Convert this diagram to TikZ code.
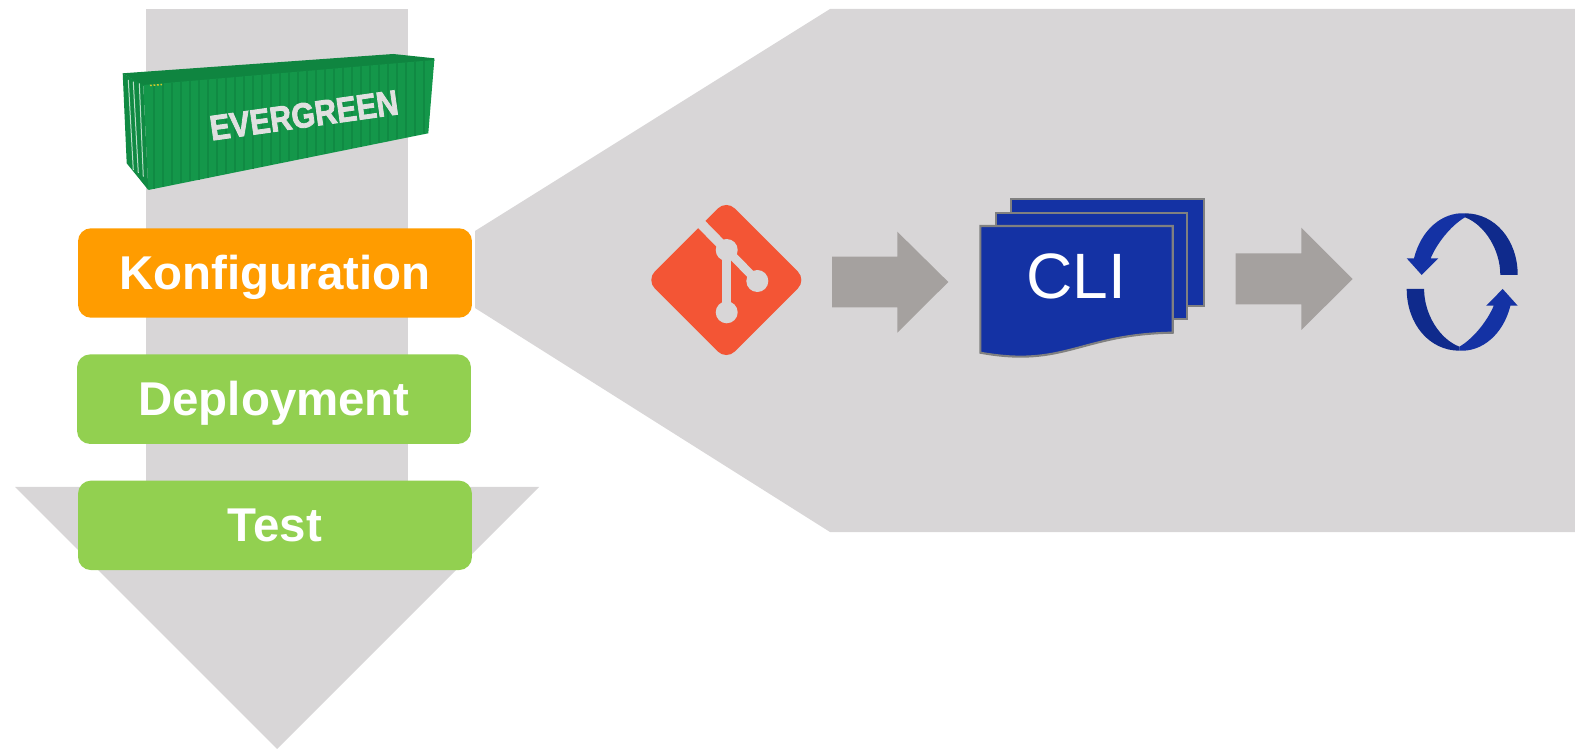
\documentclass[tikz,border=0pt]{standalone}
\usepackage{fontspec}
\setmainfont{Liberation Sans}
\newfontfamily\cratefont[BoldFeatures={FakeBold=2.5}]{Liberation Sans}
\usetikzlibrary{positioning}
\definecolor{backgray}{HTML}{D8D6D7}
\definecolor{flowgray}{HTML}{A5A19F}
\definecolor{konforange}{HTML}{FF9C00}
\definecolor{stagegreen}{HTML}{92D050}
\definecolor{gitred}{HTML}{F35535}
\definecolor{cliblue}{HTML}{1432A4}
\definecolor{clidark}{HTML}{0F2A8C}
\definecolor{boxgreen}{HTML}{14974A}
\definecolor{boxdark}{HTML}{0F8540}
\definecolor{boxrib}{HTML}{108A43}

\begin{document}
\begin{tikzpicture}
[x=0.02cm,y=-0.02cm,node distance=0.72cm,
stage/.style =
{shape=rectangle, rounded corners=0.26cm, align=center, text=white,
minimum width=7.88cm, minimum height=1.79cm, inner sep=0pt,
text height=0.95cm, text depth=0.29cm,
font=\fontsize{27}{32}\selectfont\bfseries},
back/.style = {fill=backgray},
flow/.style = {fill=flowgray},
sheet/.style = {fill=cliblue, draw=black!50, line width=1.2pt},
gitcut/.style = {draw=backgray, line width=0.17cm},
gitdot/.style = {fill=backgray}]
\useasboundingbox (0,0) rectangle (1575,749);

% grey background
\fill[back] (145.5,9) rectangle (408,490);
\fill[back] (15,487) -- (539,487) -- (277,749) -- cycle;
\fill[back] (475,231) -- (830,9) -- (1575,9) -- (1575,532) -- (830,532) -- (475,308) -- cycle;

% container
\fill[boxdark] (122.7,73.3) -- (393.3,54) -- (434.3,58.3) -- (434.3,61) -- (143.3,86) -- cycle;
\fill[boxgreen] (143.3,85) -- (434.3,60) -- (428.3,133.3) -- (148.3,190) -- cycle;
\fill[boxrib] (122.7,73.3) -- (143.3,85) -- (148.3,190) -- (126.7,163.3) -- cycle;
\foreach \x in {154,163,...,424}{
\pgfmathsetmacro{\ytop}{85-0.0859*(\x-143)}
\pgfmathsetmacro{\ybot}{190-0.2036*(\x-148)}
\draw[boxrib, line width=0.05cm] (\x,\ytop) -- (\x,\ybot);
}
\draw[white!70!boxgreen, line width=0.02cm] (128.3,80) -- (133.3,170);
\draw[white!70!boxgreen, line width=0.02cm] (133.3,81.7) -- (138.3,173);
\draw[white!70!boxgreen, line width=0.02cm] (139.3,83.3) -- (143.3,176.7);
\draw[yellow!80!black, line width=0.03cm, dash pattern=on 1pt off 1pt] (150,85.5) -- (162,84.5);
\node[rotate=8, xscale=0.86, transform shape, inner sep=0pt, text=black!12,
font=\cratefont\fontsize{20}{23}\selectfont\bfseries] (evergreen) at (304,115.3) {EVERGREEN};

% stages
\node [stage, fill=konforange] (konf) at (275,273) {Konfiguration};
\node [stage, fill=stagegreen, below=of konf, xshift=-0.02cm] (depl) {Deployment};
\node [stage, fill=stagegreen, below=of depl, xshift=0.02cm] (test) {Test};

% git logo
\fill[gitred, rounded corners=0.24cm] (726.3,200) -- (806.3,280) -- (726.3,360) -- (646.3,280) -- cycle;
\draw[gitcut, line width=0.2cm] (698,220.7) -- (726.7,250);
\draw[gitcut] (726.7,250) -- (757.3,281);
\draw[gitcut] (726.7,250) -- (726.7,312.3);
\fill[gitdot] (726.7,250) circle[radius=11];
\fill[gitdot] (757.3,281) circle[radius=11];
\fill[gitdot] (726.7,312.3) circle[radius=11];

% arrows
\fill[flow] (832,256.7) -- (897.3,256.7) -- (897.3,231.7) -- (948.3,282) -- (897.3,332.7) -- (897.3,307.3) -- (832,307.3) -- cycle;
\fill[flow] (1235.7,253.3) -- (1301.3,253.3) -- (1301.3,227.7) -- (1352.7,279) -- (1301.3,330) -- (1301.3,304.3) -- (1235.7,304.3) -- cycle;

% CLI sheets
\draw[sheet] (1011,199.3) rectangle (1203.7,305.7);
\draw[sheet] (996.3,212.7) rectangle (1187.3,319);
\draw[sheet] (980.3,226) -- (1172.7,226) -- (1172.7,332.7)
.. controls (1080,334) and (1065,368) .. (980.3,352.7) -- cycle;
\node[text=white, inner sep=0pt, font=\fontsize{36.5}{40}\selectfont] (cli) at (1076,276.5) {CLI};

% cycle
\foreach \ang in {0,180}{
\begin{scope}[rotate around={\ang:(1462.2,282)}]
\fill[cliblue] (1465,213.3) .. controls (1442,212) and (1421,230) .. (1414,258.3)
-- (1406.7,258.3) -- (1421.7,275) -- (1438.3,258.3) -- (1430.7,258.3)
.. controls (1436,245) and (1450,226) .. (1465,217.3) -- cycle;
\fill[clidark] (1517.7,275) .. controls (1517.7,240) and (1495,213.3) .. (1465,213.3)
-- (1465,217.3) .. controls (1485,225) and (1500.3,250) .. (1500.3,275) -- cycle;
\end{scope}
}
\end{tikzpicture}
\end{document}
